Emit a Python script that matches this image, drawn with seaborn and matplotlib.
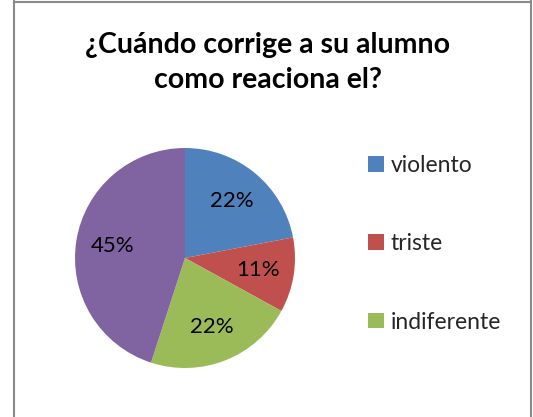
import matplotlib
matplotlib.use("Agg")
import matplotlib.pyplot as plt
import seaborn as sns
from matplotlib.lines import Line2D
from matplotlib.patches import Patch

categories = ["violento", "triste", "indiferente", "otro"]
values = [22, 11, 22, 45]
colors = ["#4F81BD", "#C0504D", "#9BBB59", "#8064A2"]
title_lines = ["¿Cuándo corrige a su alumno", "como reaciona el?"]

sns.set_theme(style="white")
plt.rcParams["font.family"] = ["Lato", "DejaVu Sans"]

W, H = 533, 417
fig = plt.figure(figsize=(W / 100, H / 100), dpi=100)

def fx(x):
    return x / W

def fy(y):
    return 1 - y / H

# border
fig.add_artist(Line2D([fx(13.5), fx(13.5)], [fy(0), fy(417)], color="#8a8a8a", lw=1.5))
fig.add_artist(Line2D([fx(530.5), fx(530.5)], [fy(0), fy(417)], color="#8a8a8a", lw=1.5))
fig.add_artist(Line2D([fx(13.5), fx(530.5)], [fy(1.5), fy(1.5)], color="#8a8a8a", lw=1.5))

# title
fig.text(fx(268), fy(45), title_lines[0], ha="center", va="center",
         fontsize=20.5, fontweight="bold", color="black")
fig.text(fx(268), fy(80), title_lines[1], ha="center", va="center",
         fontsize=20.5, fontweight="bold", color="black")

# pie
cx, cy, r = 185, 258, 110
ax = fig.add_axes([fx(cx - r), fy(cy + r), (2 * r) / W, (2 * r) / H])
wedges, texts, autotexts = ax.pie(
    values, colors=colors, startangle=90, counterclock=False,
    autopct=lambda p: f"{p:.0f}%", pctdistance=0.67,
    textprops=dict(fontsize=16, color="black"),
    wedgeprops=dict(linewidth=0),
)
ax.set_xlim(-1, 1)
ax.set_ylim(-1, 1)
ax.set_aspect("equal")
ax.axis("off")

# legend (first three entries visible)
handles = [Patch(facecolor=colors[i], edgecolor="none") for i in range(3)]
fig.legend(handles, categories[:3], loc="upper left",
           bbox_to_anchor=(fx(368), fy(155)), frameon=False,
           fontsize=16.5, handlelength=0.68, handleheight=0.68,
           handletextpad=0.3, labelspacing=2.5, borderpad=0,
           borderaxespad=0)

fig.savefig("out.png", dpi=100)
